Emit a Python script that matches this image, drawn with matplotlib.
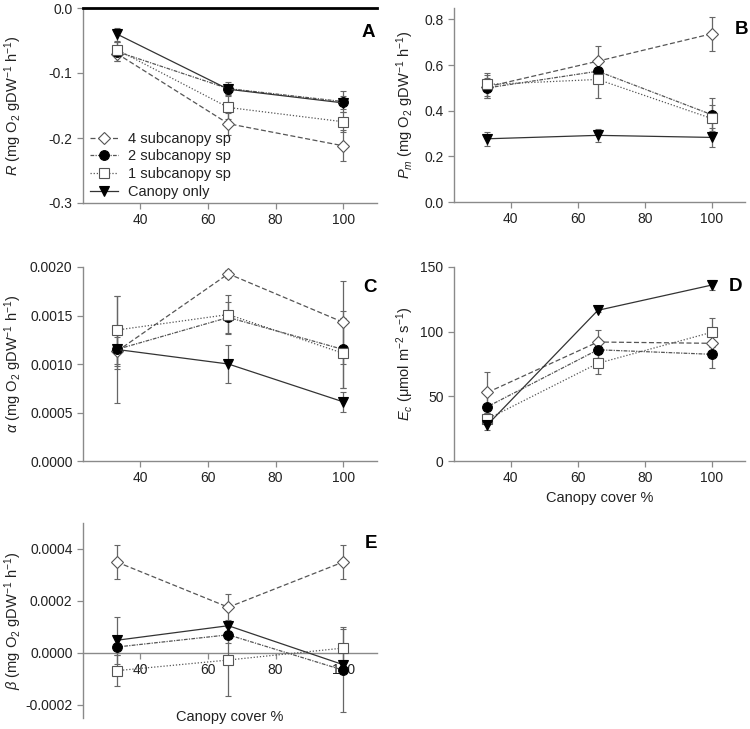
import matplotlib
matplotlib.use('Agg')
import matplotlib.pyplot as plt
import matplotlib.ticker as mticker

plt.rcParams['font.family'] = ['Liberation Sans', 'DejaVu Sans']
plt.rcParams['mathtext.fontset'] = 'custom'
plt.rcParams['mathtext.rm'] = 'Liberation Sans'
plt.rcParams['mathtext.it'] = 'Liberation Sans:italic'
plt.rcParams['axes.unicode_minus'] = False

# --- Data ---
cover = [33, 66, 100]
series_names = ['4 subcanopy sp', '2 subcanopy sp', '1 subcanopy sp', 'Canopy only']

R_vals = [[-0.070, -0.178, -0.212], [-0.067, -0.124, -0.144],
          [-0.064, -0.153, -0.175], [-0.040, -0.125, -0.146]]
R_err = [[0.012, 0.017, 0.024], [0.015, 0.010, 0.016],
         [0.012, 0.018, 0.015], [0.010, 0.008, 0.010]]

Pm_vals = [[0.505, 0.617, 0.737], [0.500, 0.573, 0.383],
           [0.515, 0.537, 0.366], [0.277, 0.292, 0.283]]
Pm_err = [[0.050, 0.068, 0.075], [0.045, 0.050, 0.072],
          [0.050, 0.083, 0.060], [0.030, 0.030, 0.040]]

alpha_vals = [[0.00113, 0.00193, 0.00143], [0.00115, 0.00148, 0.00115],
              [0.00135, 0.00151, 0.00111], [0.00115, 0.00100, 0.00061]]
alpha_err = [[0.00015, 0.00004, 0.00043], [0.00020, 0.00016, 0.00040],
             [0.00035, 0.00020, 0.00036], [0.00055, 0.00020, 0.00010]]

Ec_vals = [[53, 92, 91], [42, 86, 82.5], [32.5, 75.5, 99.5], [28, 116.5, 136]]
Ec_err = [[16, 9, 6], [10, 6, 10.5], [5, 8, 11], [4, 1.5, 4]]

beta_vals = [[0.00035, 0.000176, 0.00035], [0.000023, 0.00007, -0.000066],
             [-0.000068, -0.000027, 0.000019], [0.000049, 0.000105, -0.000045]]
beta_err = [[0.000065, 0.00005, 0.000065], [0.00003, 0.00003, 0.00016],
            [0.00006, 0.00014, 0.00008], [0.00009, 0.00002, 0.00002]]

# --- Styles ---
styles = [
    dict(marker='D', mfc='white', mec='#555555', ms=6, ls=(0, (4, 2)), color='#555555', mew=0.8),
    dict(marker='o', mfc='black', mec='black', ms=7, ls=(0, (3, 1, 1, 1)), color='#555555', mew=0.8),
    dict(marker='s', mfc='white', mec='#555555', ms=6.5, ls=(0, (1, 1.5)), color='#555555', mew=0.8),
    dict(marker='v', mfc='black', mec='black', ms=7, ls='-', color='#333333', mew=0.8),
]

spine_col = '#8a8a8a'
text_col = '#222222'

fig = plt.figure(figsize=(7.5, 7.29), dpi=100)
W, H = 750, 729


def add_axes(x0, x1, y0, y1):
    return fig.add_axes([x0 / W, 1 - y1 / H, (x1 - x0) / W, (y1 - y0) / H])


axA = add_axes(83, 377, 8, 203)
axB = add_axes(454, 745, 8, 202)
axC = add_axes(83, 377, 267, 461)
axD = add_axes(454, 745, 267, 461)
axE = add_axes(83, 377, 523, 718)


def draw(ax, vals, errs):
    handles = []
    for v, e, st in zip(vals, errs, styles):
        h = ax.errorbar(cover, v, yerr=e, ecolor='#666666', elinewidth=0.9, capsize=2.5,
                        capthick=0.9, lw=0.9, zorder=3, **st)
        handles.append(h)
    return handles


def style_axes(ax):
    for s in ['top', 'right']:
        ax.spines[s].set_visible(False)
    for s in ['left', 'bottom']:
        ax.spines[s].set_color(spine_col)
        ax.spines[s].set_linewidth(1.0)
    ax.tick_params(colors=spine_col, labelcolor=text_col, labelsize=10, length=4, width=0.9)
    ax.set_xlim(23, 110)
    ax.set_xticks([40, 60, 80, 100])


handlesA = None
for ax, vals, errs in [(axA, R_vals, R_err), (axB, Pm_vals, Pm_err),
                       (axC, alpha_vals, alpha_err), (axD, Ec_vals, Ec_err),
                       (axE, beta_vals, beta_err)]:
    hs = draw(ax, vals, errs)
    if handlesA is None:
        handlesA = hs
    style_axes(ax)

# Panel A
axA.set_ylim(-0.3, 0.0)
axA.set_yticks([-0.3, -0.2, -0.1, 0.0])
axA.yaxis.set_major_formatter(mticker.FormatStrFormatter('%.1f'))
axA.axhline(0, color='black', lw=2, clip_on=False, zorder=4)
axA.set_ylabel(r'$R$ (mg O$_2$ gDW$^{-1}$ h$^{-1}$)', fontsize=10.5, color=text_col)
axA.yaxis.set_label_coords(-0.2, 0.5)
leg_handles = [h[0] for h in handlesA]
leg = axA.legend(leg_handles, series_names, loc='lower left', bbox_to_anchor=(-0.01, -0.03),
                 frameon=False, fontsize=10.5, handlelength=1.9, handletextpad=0.7,
                 labelspacing=0.25, borderpad=0.2)
for t in leg.get_texts():
    t.set_color(text_col)

# Panel B
axB.set_ylim(0, 0.85)
axB.set_yticks([0.0, 0.2, 0.4, 0.6, 0.8])
axB.yaxis.set_major_formatter(mticker.FormatStrFormatter('%.1f'))
axB.set_ylabel(r'$P_m$ (mg O$_2$ gDW$^{-1}$ h$^{-1}$)', fontsize=10.5, color=text_col)
axB.yaxis.set_label_coords(-0.13, 0.5)

# Panel C
axC.set_ylim(0, 0.002)
axC.set_yticks([0.0, 0.0005, 0.0010, 0.0015, 0.0020])
axC.yaxis.set_major_formatter(mticker.FormatStrFormatter('%.4f'))
axC.set_ylabel(r'$\alpha$ (mg O$_2$ gDW$^{-1}$ h$^{-1}$)', fontsize=10.5, color=text_col)
axC.yaxis.set_label_coords(-0.2, 0.5)

# Panel D
axD.set_ylim(0, 150)
axD.set_yticks([0, 50, 100, 150])
axD.set_ylabel(r'$E_c$ ($\mathrm{\mu}$mol m$^{-2}$ s$^{-1}$)', fontsize=10.5, color=text_col)
axD.yaxis.set_label_coords(-0.13, 0.5)
axD.set_xlabel('Canopy cover %', fontsize=10.5, color=text_col, labelpad=4)

# Panel E
axE.set_ylim(-0.00025, 0.0005)
axE.set_yticks([-0.0002, 0.0, 0.0002, 0.0004])
axE.yaxis.set_major_formatter(mticker.FormatStrFormatter('%.4f'))
axE.spines['bottom'].set_position(('data', 0))
axE.set_ylabel(r'$\beta$ (mg O$_2$ gDW$^{-1}$ h$^{-1}$)', fontsize=10.5, color=text_col)
axE.yaxis.set_label_coords(-0.2, 0.5)
axE.set_xlabel('Canopy cover %', fontsize=10.5, color=text_col)
axE.xaxis.set_label_coords(0.5, 0.04)

# Panel letters
for ax, letter, x, y in [(axA, 'A', 0.993, 0.918), (axB, 'B', 1.012, 0.933),
                         (axC, 'C', 1.0, 0.938), (axD, 'D', 0.99, 0.943),
                         (axE, 'E', 1.0, 0.938)]:
    ax.text(x, y, letter, transform=ax.transAxes, ha='right', va='top',
            fontsize=13.5, fontweight='bold', color='black')

fig.savefig('out.png', dpi=100)
